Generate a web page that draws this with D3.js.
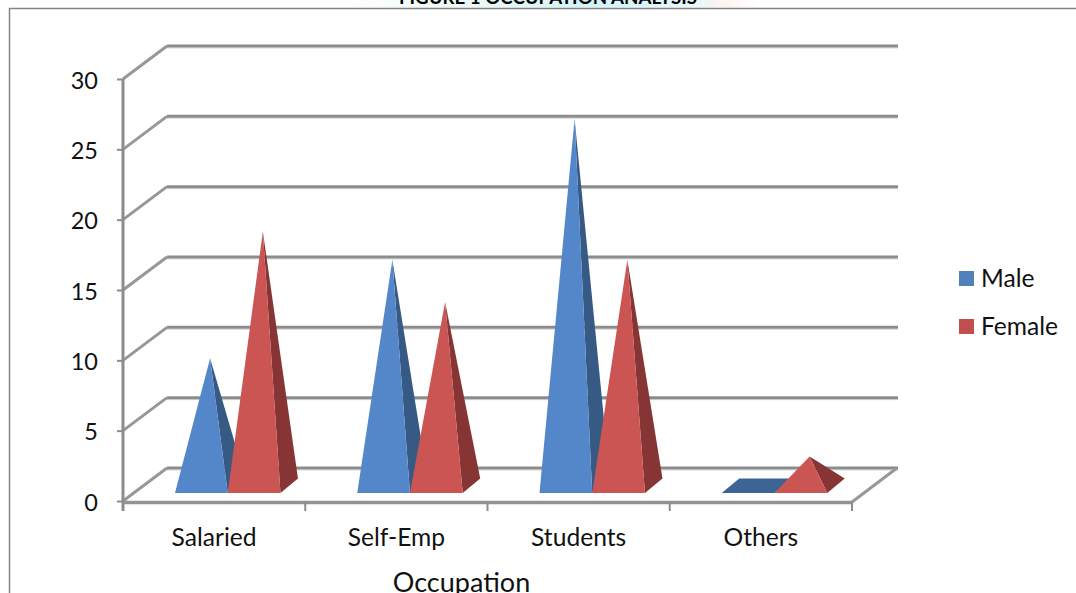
<!DOCTYPE html>
<html>
<head>
<meta charset="utf-8">
<script src="https://cdn.jsdelivr.net/npm/d3@7/dist/d3.min.js"></script>
<style>
html,body{margin:0;padding:0;background:#fff;overflow:hidden}
svg{display:block}
text{font-family:Lato,"Open Sans",sans-serif;fill:#111}
</style>
</head>
<body>
<svg id="chart" width="1076" height="593"></svg>
<script>
const categories = ["Salaried", "Self-Emp", "Students", "Others"];
const seriesNames = ["Male", "Female"];
const maleValues = [9, 16, 26, 0];
const femaleValues = [18, 13, 16, 2];
const yTicks = [0, 5, 10, 15, 20, 25, 30];
const xTitle = "Occupation";
const chartTitle = "FIGURE 1 OCCUPATION ANALYSIS";

const seriesValues = [maleValues, femaleValues];
const palette = [
  {front: "#5487c9", side: "#375a85", legend: "#4f81bd"},
  {front: "#cb5553", side: "#863534", legend: "#c0504d"}
];

const svg = d3.select("#chart");
const grid = "#8c8c8c";

// Oblique projection of the 3D box: wall depth and the inset of the bars from the front edge
const wallDx = 44, wallDy = -33;
const barInsetX = 13.6, barInsetY = -8;
const barDepthX = 17.5, barDepthY = -14.5;

const y = d3.scaleLinear().domain([0, 30]).range([501, 79]);
const x = d3.scaleBand().domain(categories).range([123, 852]).paddingInner(0).paddingOuter(0);
const xInner = d3.scaleBand().domain(seriesNames).range([0, x.bandwidth()]).paddingOuter(0.7275).paddingInner(0);

// Title strip, cut by the top edge
const titleGrad = svg.append("defs").append("linearGradient").attr("id", "titleGlow");
titleGrad.append("stop").attr("offset", "0").attr("stop-color", "#ffffff");
titleGrad.append("stop").attr("offset", "0.25").attr("stop-color", "#eefaf6");
titleGrad.append("stop").attr("offset", "0.6").attr("stop-color", "#d2f3f8");
titleGrad.append("stop").attr("offset", "0.82").attr("stop-color", "#e2f8fb");
titleGrad.append("stop").attr("offset", "0.9").attr("stop-color", "#fdf3f2");
titleGrad.append("stop").attr("offset", "1").attr("stop-color", "#ffffff");
svg.append("rect").attr("x", 345).attr("y", 0).attr("width", 415).attr("height", 7.5).attr("fill", "url(#titleGlow)");
svg.append("text").attr("x", 548).attr("y", 3.5).attr("text-anchor", "middle")
  .attr("font-size", 18.7).attr("font-weight", 700).style("fill", "#000").text(chartTitle);

// Outer frame, open to the right and the bottom
svg.append("path").attr("d", d3.line()([[9.5, 593], [9.5, 8.5], [1076, 8.5]]))
  .attr("fill", "none").attr("stroke", "#858585").attr("stroke-width", 1.5);

// Back wall gridlines with their diagonal run along the side wall
const gridG = svg.append("g");
yTicks.forEach(t => {
  const yy = y(t);
  gridG.append("line").attr("x1", 123 + wallDx).attr("x2", 852 + wallDx + 2)
    .attr("y1", yy + wallDy + 2).attr("y2", yy + wallDy + 2)
    .attr("stroke", "#d8d8d8").attr("stroke-width", 1);
  gridG.append("line").attr("x1", 123 + wallDx).attr("x2", 852 + wallDx + 2)
    .attr("y1", yy + wallDy).attr("y2", yy + wallDy)
    .attr("stroke", grid).attr("stroke-width", 3);
  gridG.append("line").attr("x1", 123).attr("x2", 123 + wallDx)
    .attr("y1", yy).attr("y2", yy + wallDy)
    .attr("stroke", "#979797").attr("stroke-width", 3);
});

// Floor edges and axes
const axisY = d3.axisLeft(y).tickValues(yTicks).tickSize(6).tickPadding(19);
const gy = svg.append("g").attr("transform", "translate(123,0)").call(axisY);
gy.select(".domain").remove();
gy.selectAll("line").attr("stroke", grid).attr("stroke-width", 2);
gy.selectAll("text").attr("font-size", 23.5).attr("transform", "translate(0,1.5)").style("fill", "#111");
svg.append("line").attr("x1", 123).attr("x2", 123).attr("y1", y(30)).attr("y2", 511)
  .attr("stroke", grid).attr("stroke-width", 3);
svg.append("line").attr("x1", 123).attr("x2", 852).attr("y1", 502.5).attr("y2", 502.5)
  .attr("stroke", "#939393").attr("stroke-width", 3.4);
svg.append("line").attr("x1", 852).attr("x2", 852 + wallDx + 1).attr("y1", 502).attr("y2", 502 + wallDy - 1)
  .attr("stroke", "#979797").attr("stroke-width", 3);

const boundaries = categories.map(c => x(c)).concat([x.range()[1]]);
svg.append("g").selectAll("line").data(boundaries).join("line")
  .attr("x1", d => d).attr("x2", d => d).attr("y1", 502).attr("y2", 511)
  .attr("stroke", grid).attr("stroke-width", 2);

svg.append("g").selectAll("text").data(categories).join("text")
  .attr("x", d => x(d) + x.bandwidth() / 2).attr("y", 546).attr("text-anchor", "middle")
  .attr("font-size", 24.6).text(d => d);

svg.append("text").attr("x", 461.5).attr("y", 592).attr("text-anchor", "middle")
  .attr("font-size", 27).text(xTitle);

// Pyramids: a front face, a shaded right side, apex above the centre of the base
const baseY = y(0) + barInsetY;
const centreDx = barDepthX / 2, centreDy = barDepthY / 2 - 1;
const poly = d3.line();
const marks = svg.append("g");
categories.forEach((c, ci) => {
  seriesNames.forEach((s, si) => {
    const v = seriesValues[si][ci];
    const left = x(c) + xInner(s) + barInsetX;
    const right = left + xInner.bandwidth();
    const ax = (left + right) / 2 + centreDx;
    const ay = y(v) + barInsetY + centreDy;
    const backX = right + barDepthX, backY = baseY + barDepthY;
    if (v === 0) {
      // An empty value collapses to the flat base square
      marks.append("path")
        .attr("d", poly([[left, baseY], [right, baseY], [backX, backY], [left + barDepthX, backY]]) + "Z")
        .attr("fill", "#3c6494");
      return;
    }
    marks.append("path")
      .attr("d", poly([[right, baseY], [backX, backY], [ax, ay]]) + "Z")
      .attr("fill", palette[si].side);
    marks.append("path")
      .attr("d", poly([[left, baseY], [right, baseY], [ax, ay]]) + "Z")
      .attr("fill", palette[si].front);
  });
});

// Legend
const legend = svg.append("g").selectAll("g").data(seriesNames).join("g")
  .attr("transform", (d, i) => `translate(959,${271 + i * 48})`);
legend.append("rect").attr("width", 15).attr("height", 15).attr("fill", (d, i) => palette[i].legend);
legend.append("text").attr("x", 22).attr("y", 16).attr("font-size", 24.6).text(d => d);
</script>
</body>
</html>
